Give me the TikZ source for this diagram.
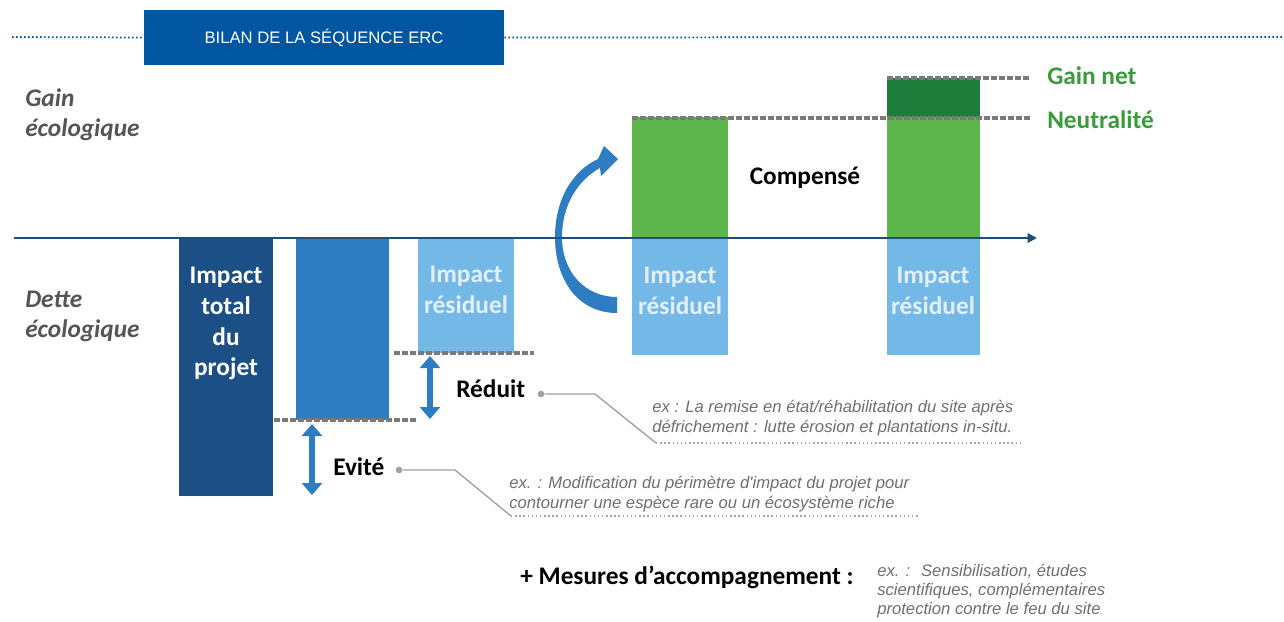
\documentclass[tikz,border=0pt]{standalone}
\usepackage{fontspec}
\setmainfont{Carlito}
\newfontfamily\arialfont{Liberation Sans}
\usepackage{tikz}
\usetikzlibrary{arrows.meta}

\definecolor{bandeau}{HTML}{0056A0}
\definecolor{axe}{HTML}{1F4E79}
\definecolor{total}{HTML}{1B4F85}
\definecolor{evite}{HTML}{2E7DC3}
\definecolor{residuel}{HTML}{74B8E7}
\definecolor{pale}{HTML}{E3F0FA}
\definecolor{compense}{HTML}{5DB64B}
\definecolor{gainnet}{HTML}{1F7D3B}
\definecolor{vert}{HTML}{3A9B3C}
\definecolor{grisTxt}{HTML}{555555}
\definecolor{grisEx}{HTML}{6E6E6E}
\definecolor{tirets}{HTML}{7A7A7A}

\begin{document}
\begin{tikzpicture}[x=0.75pt,y=-0.75pt,
      banner/.style ={fill=bandeau,text=white,minimum width=270pt,minimum height=41.25pt,
                      font=\arialfont\fontsize{12.5}{15}\selectfont},
      side/.style   ={font=\bfseries\itshape\fontsize{19}{22.5}\selectfont,text=grisTxt,
                      align=left,anchor=north west,inner sep=0pt},
      lbl/.style    ={font=\bfseries\fontsize{19}{23}\selectfont,text=white,align=center,
                      anchor=north,inner sep=0pt},
      big/.style    ={font=\bfseries\fontsize{19}{23}\selectfont,inner sep=0pt},
      ex/.style     ={font=\arialfont\itshape\fontsize{12.5}{15}\selectfont,text=grisEx,
                      align=left,anchor=west,inner sep=0pt},
      point/.style  ={circle,fill=gray!75,inner sep=0pt,minimum size=5pt},
      lien/.style   ={draw=gray!75,line width=1pt},
      souligne/.style={draw=gray!70,line width=1.1pt,dotted},
      tiret/.style  ={draw=tirets,line width=2.4pt,dash pattern=on 4.5pt off 1.5pt},
      fleche/.style ={draw=evite,line width=4pt,
                      {Triangle[length=9pt,width=15pt]}-{Triangle[length=9pt,width=15pt]}},
      pointille/.style={draw=bandeau,line width=1.3pt,dash pattern=on 1.3pt off 1.7pt}]
  \useasboundingbox (0,0) rectangle (1284,621);

  % Bandeau du titre
  \node[banner] (titre) at (324,37.5) {BILAN DE LA SÉQUENCE ERC};
  \coordinate (bordG) at (12,37);
  \coordinate (bordD) at (1284,37);
  \draw[pointille] (bordG) -- (titre.west);
  \draw[pointille] (titre.east) -- (bordD);

  % Axe gain / dette
  \node[side] (gain)  at (25,88)  {Gain\\écologique};
  \node[side] (dette) at (25,291) {Dette\\écologique};

  % Barres
  \fill[total]    (179,238) rectangle (273,496);
  \fill[evite]    (296,238) rectangle (389,420);
  \foreach \xa/\xb/\yb in {418/514/353, 632/728/355, 887/980/355}
    {\fill[residuel] (\xa,238) rectangle (\xb,\yb);}
  \fill[compense] (632,117) rectangle (728,238);
  \fill[compense] (887,117) rectangle (980,238);
  \fill[gainnet]  (887,78)  rectangle (980,117);

  % Flèche courbe de compensation (forme effilée)
  \fill[evite] (617,313) .. controls (578,313) and (555,280) .. (555,237)
    .. controls (555,200) and (572,171) .. (598,159)
    -- (604,146) -- (618,159) -- (601,176) -- (600,168)
    .. controls (578,180) and (562,205) .. (562,237)
    .. controls (562,272) and (585,297) .. (617,297) -- cycle;

  \coordinate (axeO) at (14,238);
  \coordinate (axeX) at (1037,238);
  \draw[axe,line width=2.2pt,-{Triangle[length=7pt,width=7pt]}] (axeO) -- (axeX);

  % Textes des barres
  \node[lbl]            (impTot) at (226,267) {Impact\\total\\du\\projet};
  \node[lbl,text=pale]  (res1)   at (466,266) {Impact\\résiduel};
  \node[lbl,text=pale]  (res2)   at (680,267) {Impact\\résiduel};
  \node[lbl,text=pale]  (res3)   at (933,267) {Impact\\résiduel};
  \node[big] (comp) at (805,178) {Compensé};

  % Niveaux
  \coordinate (nivR1) at (394,353);  \coordinate (nivR2) at (534,353);
  \coordinate (nivE1) at (274,420);  \coordinate (nivE2) at (416,420);
  \coordinate (nivN1) at (632,118);  \coordinate (nivN2) at (1030,118);
  \coordinate (nivG1) at (887,78);   \coordinate (nivG2) at (1030,78);
  \draw[tiret] (nivR1) -- (nivR2);
  \draw[tiret] (nivE1) -- (nivE2);
  \draw[tiret] (nivN1) -- (nivN2);
  \draw[tiret] (nivG1) -- (nivG2);
  \node[big,text=vert,anchor=west] (gainnet) at (1047,76)  {Gain net};
  \node[big,text=vert,anchor=west] (neutre)  at (1047,120) {Neutralité};

  % Flèches doubles
  \coordinate (redH) at (430,356);  \coordinate (redB) at (430,419);
  \coordinate (eviH) at (312,424);  \coordinate (eviB) at (312,495);
  \draw[fleche] (redH) -- (redB);
  \draw[fleche] (eviH) -- (eviB);

  % Réduit
  \node[big,anchor=west] (reduit) at (456,389) {Réduit};
  \node[point] (dotR) at (541,394) {};
  \coordinate (kR1) at (595,394);
  \coordinate (kR2) at (656,443);
  \coordinate (kR3) at (1020,443);
  \draw[lien] (dotR) -- (kR1) -- (kR2);
  \draw[souligne] (kR2) -- (kR3);
  \node[ex] (exR) at (652,418) {ex : La remise en état/réhabilitation du site après\\
    défrichement : lutte érosion et plantations in-situ.};

  % Evité
  \node[big,anchor=west] (evit) at (333,467) {Evité};
  \node[point] (dotE) at (399,470) {};
  \coordinate (kE1) at (455,470);
  \coordinate (kE2) at (511,516);
  \coordinate (kE3) at (918,516);
  \draw[lien] (dotE) -- (kE1) -- (kE2);
  \draw[souligne] (kE2) -- (kE3);
  \node[ex] (exE) at (509,494.5) {ex. : Modification du périmètre d'impact du projet pour\\
    contourner une espèce rare ou un écosystème riche};

  % Mesures d'accompagnement
  \node[big,anchor=west] (mesures) at (520,577) {+ Mesures d’accompagnement :};
  \node[ex,font=\arialfont\itshape\fontsize{12.5}{14.3}\selectfont] (exM) at (877,591)
    {ex. :~ Sensibilisation, études\\scientifiques, complémentaires\\protection contre le feu du site};
\end{tikzpicture}
\end{document}
